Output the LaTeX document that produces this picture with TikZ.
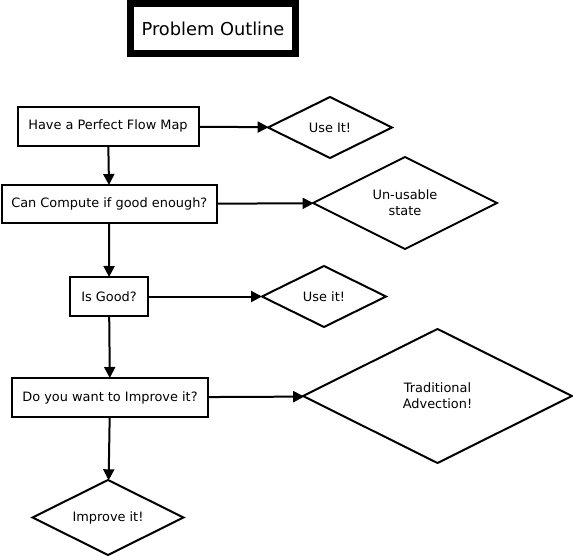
\documentclass[tikz,border=0pt]{standalone}
\usepackage{fontspec}
\setmainfont{DejaVu Sans}
\usetikzlibrary{shapes.geometric,arrows.meta}
\begin{document}
\begin{tikzpicture}[x=1pt,y=-1pt,
  every node/.style={font=\fontsize{12.9}{16}\selectfont},
  boxnode/.style={draw,line width=2pt,rectangle,inner sep=0pt,outer sep=0pt},
  decision/.style={draw,line width=2pt,diamond,shape aspect=2,inner sep=0pt,outer sep=0pt,align=center},
  flow/.style={line width=2pt,-{Triangle[length=11pt,width=11pt]}}]
\useasboundingbox (0,0) rectangle (573,556);
\node[draw,line width=7pt,minimum width=165pt,minimum height=50pt,inner sep=0pt,font=\fontsize{17.8}{20}\selectfont] (title) at (213,28.5) {Problem Outline};
\node[boxnode,minimum width=181pt,minimum height=38.5pt] (b1) at (108,126.3) {Have a Perfect Flow Map};
\node[boxnode,minimum width=215.5pt,minimum height=38pt] (b2) at (109.3,204) {Can Compute if good enough?};
\node[boxnode,minimum width=78pt,minimum height=39pt] (b3) at (109,296.5) {Is Good?};
\node[boxnode,minimum width=196pt,minimum height=39pt] (b4) at (110,397.5) {Do you want to Improve it?};
\node[decision,minimum width=124pt,minimum height=61pt] (d1) at (330,127.5) {Use It!};
\node[decision,minimum width=184pt,minimum height=92pt] (d2) at (405,203) {Un-usable\\state};
\node[decision,minimum width=124pt,minimum height=61pt] (d3) at (324,296.5) {Use it!};
\node[decision,minimum width=269pt,minimum height=134pt] (d4) at (437.5,396) {Traditional\\Advection!};
\node[decision,minimum width=151pt,minimum height=75pt] (d5) at (108,517.5) {Improve it!};
\draw[flow] (b1) -- (d1);
\draw[flow] (b2) -- (d2);
\draw[flow] (b3) -- (d3);
\draw[flow] (b4) -- (d4);
\draw[flow] (b1) -- (b2);
\draw[flow] (b2) -- (b3);
\draw[flow] (b3) -- (b4);
\draw[flow] (b4) -- (d5);
\end{tikzpicture}
\end{document}
